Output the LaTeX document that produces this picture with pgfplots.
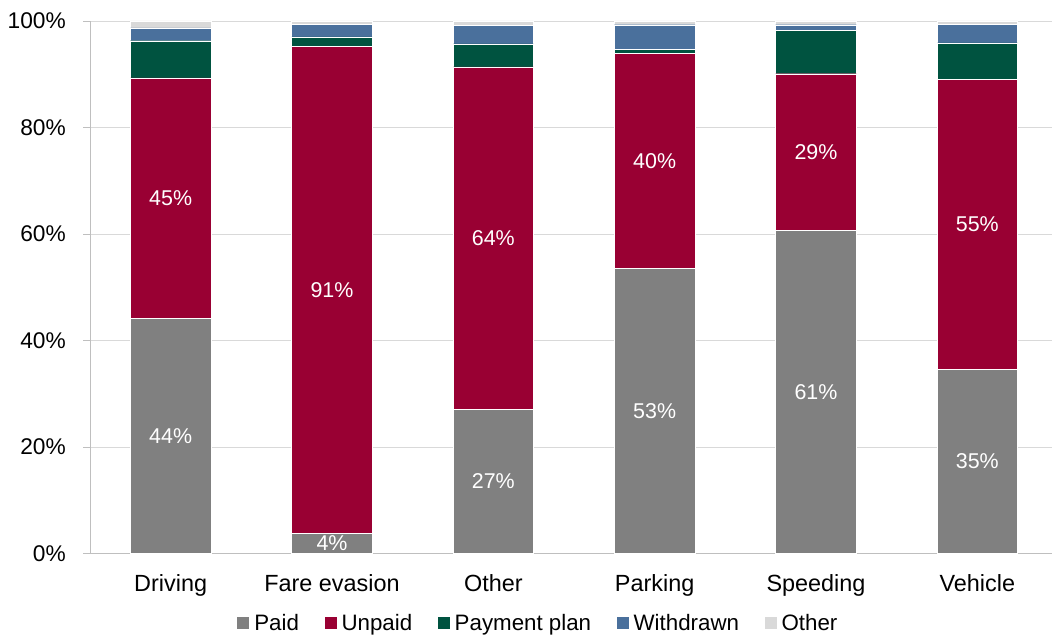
\documentclass[border=0pt]{standalone}
\usepackage{pgfplots}
\pgfplotsset{compat=1.18}
\usepackage{fontspec}
\setmainfont{Liberation Sans}
\definecolor{cpaid}{HTML}{808080}
\definecolor{cunpaid}{HTML}{990033}
\definecolor{cplan}{HTML}{005340}
\definecolor{cwith}{HTML}{4A709C}
\definecolor{cother}{HTML}{D9D9D9}
\definecolor{cgrid}{HTML}{D9D9D9}
\definecolor{caxis}{HTML}{BFBFBF}

\pgfplotsset{
    frame/.style={
        scale only axis,
        width=968bp, height=532.6bp,
        xmin=-0.5, xmax=5.5, ymin=0, ymax=100,
    },
}

\begin{document}
\begin{tikzpicture}
\begin{axis}[
    frame, name=main,
    ybar stacked, bar width=0.5,
    xtick={0,...,5},
    xticklabels={Driving,Fare evasion,Other,Parking,Speeding,Vehicle},
    xticklabel style={anchor=base, inner sep=0pt, yshift=-31bp, font=\fontsize{23.5}{28}\selectfont},
    major x tick style={draw=none},
    extra x ticks={-0.5,0.5,1.5,2.5,3.5,4.5,5.5},
    extra x tick labels={},
    extra x tick style={grid=none, major tick length=6.5bp, tick style={draw=caxis, line width=0.9pt}},
    ytick={0,20,...,100},
    yticklabel={\pgfmathprintnumber{\tick}\%},
    yticklabel style={anchor=east, inner sep=0pt, xshift=-17.5bp, font=\fontsize{22.8}{27}\selectfont},
    ymajorgrids,
    grid style={draw=cgrid, line width=0.9pt},
    axis x line*=bottom, axis y line*=left,
    axis line style={draw=caxis, line width=0.9pt, -},
    tick align=outside, major tick length=6.5bp,
    y tick style={draw=caxis, line width=0.9pt},
    /pgf/number format/assume math mode=true,
    legend style={at={(axis description cs:0.1522,-0.131)}, anchor=west, draw=none,
        inner sep=0pt, outer sep=0pt,
        legend columns=-1, font=\fontsize{22.4}{26}\selectfont,
        nodes={inner sep=0pt},
        /tikz/every odd column/.append style={column sep=5bp},
        /tikz/every even column/.append style={column sep=25.5bp}},
    legend image code/.code={\fill[#1,draw=none] (0bp,-6bp) rectangle (12bp,6bp);},
]
% Paid
\addplot[fill=cpaid, draw=white, line width=0.4pt]
    coordinates {(0,44.2) (1,3.8) (2,27.1) (3,53.6) (4,60.7) (5,34.6)};
% Unpaid
\addplot[fill=cunpaid, draw=white, line width=0.4pt]
    coordinates {(0,45.1) (1,91.5) (2,64.3) (3,40.3) (4,29.4) (5,54.5)};
% Payment plan
\addplot[fill=cplan, draw=white, line width=0.4pt]
    coordinates {(0,7.0) (1,1.7) (2,4.3) (3,0.8) (4,8.1) (5,6.8)};
% Withdrawn
\addplot[fill=cwith, draw=white, line width=0.4pt]
    coordinates {(0,2.4) (1,2.4) (2,3.5) (3,4.6) (4,1.1) (5,3.5)};
% Other
\addplot[fill=cother, draw=white, line width=0.4pt]
    coordinates {(0,1.3) (1,0.6) (2,0.8) (3,0.7) (4,0.7) (5,0.6)};
\legend{Paid,Unpaid,Payment plan,Withdrawn,Other}
\end{axis}
% segment labels: midpoints of the Paid and Unpaid segments
\begin{axis}[frame, hide axis]
\addplot[draw=none, mark=none, point meta=explicit symbolic,
    nodes near coords={\pgfplotspointmeta\%},
    every node near coord/.append style={anchor=center, text=white,
        font=\fontsize{21.5}{26}\selectfont}]
    coordinates {(0,22.1)[44] (1,1.9)[4] (2,13.55)[27] (3,26.8)[53] (4,30.35)[61] (5,17.3)[35]
                 (0,66.75)[45] (1,49.55)[91] (2,59.25)[64] (3,73.75)[40] (4,75.4)[29] (5,61.85)[55]};
\end{axis}
\pgfresetboundingbox
\path[use as bounding box] ([xshift=-90bp,yshift=-82bp]main.south west)
    rectangle ([xshift=962bp,yshift=21bp]main.north west);
\end{tikzpicture}
\end{document}
